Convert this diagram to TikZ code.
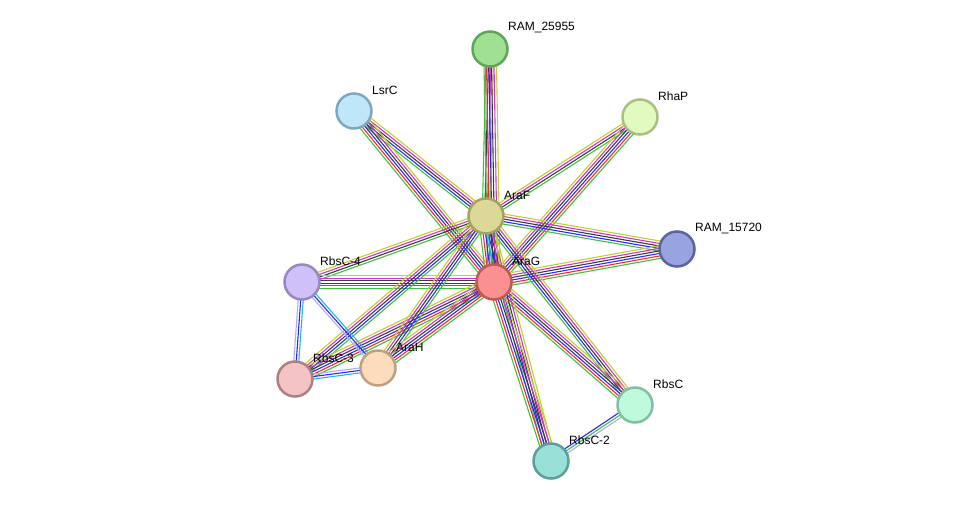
\documentclass[tikz,border=0pt]{standalone}
\usepackage{fontspec}
\setmainfont{Liberation Sans}
\usetikzlibrary{calc,backgrounds}
\definecolor{G}{RGB}{64,192,64}
\definecolor{R}{RGB}{250,40,40}
\definecolor{B}{RGB}{40,40,250}
\definecolor{K}{RGB}{60,60,60}
\definecolor{M}{RGB}{210,50,210}
\definecolor{Y}{RGB}{190,210,40}
\definecolor{C}{RGB}{40,180,220}
\definecolor{L}{RGB}{170,170,255}
\definecolor{fr25}{HTML}{A0E093}\definecolor{dr25}{HTML}{5FA55A}
\definecolor{flsrc}{HTML}{C0E6FA}\definecolor{dlsrc}{HTML}{7FA8C0}
\definecolor{frhap}{HTML}{E0FAC0}\definecolor{drhap}{HTML}{A8C080}
\definecolor{faraf}{HTML}{DCD898}\definecolor{daraf}{HTML}{A8A060}
\definecolor{fr15}{HTML}{98A4E0}\definecolor{dr15}{HTML}{5A64A0}
\definecolor{frbsc4}{HTML}{D0C0FA}\definecolor{drbsc4}{HTML}{9888C0}
\definecolor{farag}{HTML}{FA9090}\definecolor{darag}{HTML}{C05858}
\definecolor{frbsc3}{HTML}{F4C4C4}\definecolor{drbsc3}{HTML}{B08080}
\definecolor{farah}{HTML}{FCDCBC}\definecolor{darah}{HTML}{C0A080}
\definecolor{frbsc}{HTML}{C0FADC}\definecolor{drbsc}{HTML}{80C0A0}
\definecolor{frbsc2}{HTML}{98E0D8}\definecolor{drbsc2}{HTML}{5AA098}
\tikzset{
  prot/.style={circle, minimum size=35pt, inner sep=0pt, line width=2.5pt},
  lab/.style={anchor=west, font=\fontsize{12}{14}\selectfont, inner sep=0pt},
  eline/.style={line width=1.1pt}
}
\newcommand\sedge[4]{%
  \foreach \cc [count=\ii] in {#4}{%
    \pgfmathsetmacro\oo{(\ii-(#3+1)/2)*2.5}%
    \draw[eline,\cc] ($(#1.center)!\oo pt!90:(#2.center)$) -- ($(#2.center)!\oo pt!-90:(#1.center)$);
  }}
\newcommand\prot[3]{%
  \node[prot, fill=f#1, draw=d#1] (#1) at (#2) {};
  \node[lab] (#1-l) at ($(#1)+(18,-21)$) {#3};
}
\begin{document}
\begin{tikzpicture}[x=1pt,y=-1pt]
\useasboundingbox (0,0) rectangle (976,506);
\prot{r25}{490,49}{RAM\_25955}
\prot{lsrc}{354,111}{LsrC}
\prot{rhap}{640,117}{RhaP}
\prot{araf}{486,216}{AraF}
\prot{r15}{677,249}{RAM\_15720}
\prot{rbsc4}{302,282}{RbsC-4}
\prot{arag}{494,282}{AraG}
\prot{rbsc3}{295,379}{RbsC-3}
\prot{arah}{378,368}{AraH}
\prot{rbsc}{635,405}{RbsC}
\prot{rbsc2}{551,461}{RbsC-2}
\begin{scope}[on background layer]
\sedge{r25}{araf}{4}{G,K,M,Y}
\sedge{r25}{arag}{6}{G,R,B,K,M,Y}
\sedge{lsrc}{araf}{5}{G,B,K,M,Y}
\sedge{lsrc}{arag}{6}{G,R,B,K,M,Y}
\sedge{araf}{rhap}{4}{G,K,M,Y}
\sedge{arag}{rhap}{6}{G,R,B,K,M,Y}
\sedge{araf}{r15}{5}{G,B,K,M,Y}
\sedge{arag}{r15}{6}{G,R,B,K,M,Y}
\sedge{rbsc4}{araf}{4}{G,K,M,Y}
\sedge{rbsc4}{arag}{6}{G,R,B,K,M,Y}
\sedge{rbsc3}{araf}{5}{G,B,K,M,Y}
\sedge{rbsc3}{arag}{6}{G,R,B,K,M,Y}
\sedge{arah}{araf}{5}{G,B,K,M,Y}
\sedge{arah}{arag}{6}{G,R,B,K,M,Y}
\sedge{araf}{rbsc}{5}{G,B,K,M,Y}
\sedge{arag}{rbsc}{6}{G,R,B,K,M,Y}
\sedge{araf}{rbsc2}{5}{G,B,K,M,Y}
\sedge{arag}{rbsc2}{6}{G,R,B,K,M,Y}
\sedge{araf}{arag}{7}{G,R,B,C,K,M,Y}
\sedge{rbsc4}{rbsc3}{3}{L,B,C}
\sedge{rbsc4}{arah}{3}{L,B,C}
\sedge{rbsc3}{arah}{3}{C,B,L}
\sedge{rbsc}{rbsc2}{3}{B,G,L}
\end{scope}
\end{tikzpicture}
\end{document}
